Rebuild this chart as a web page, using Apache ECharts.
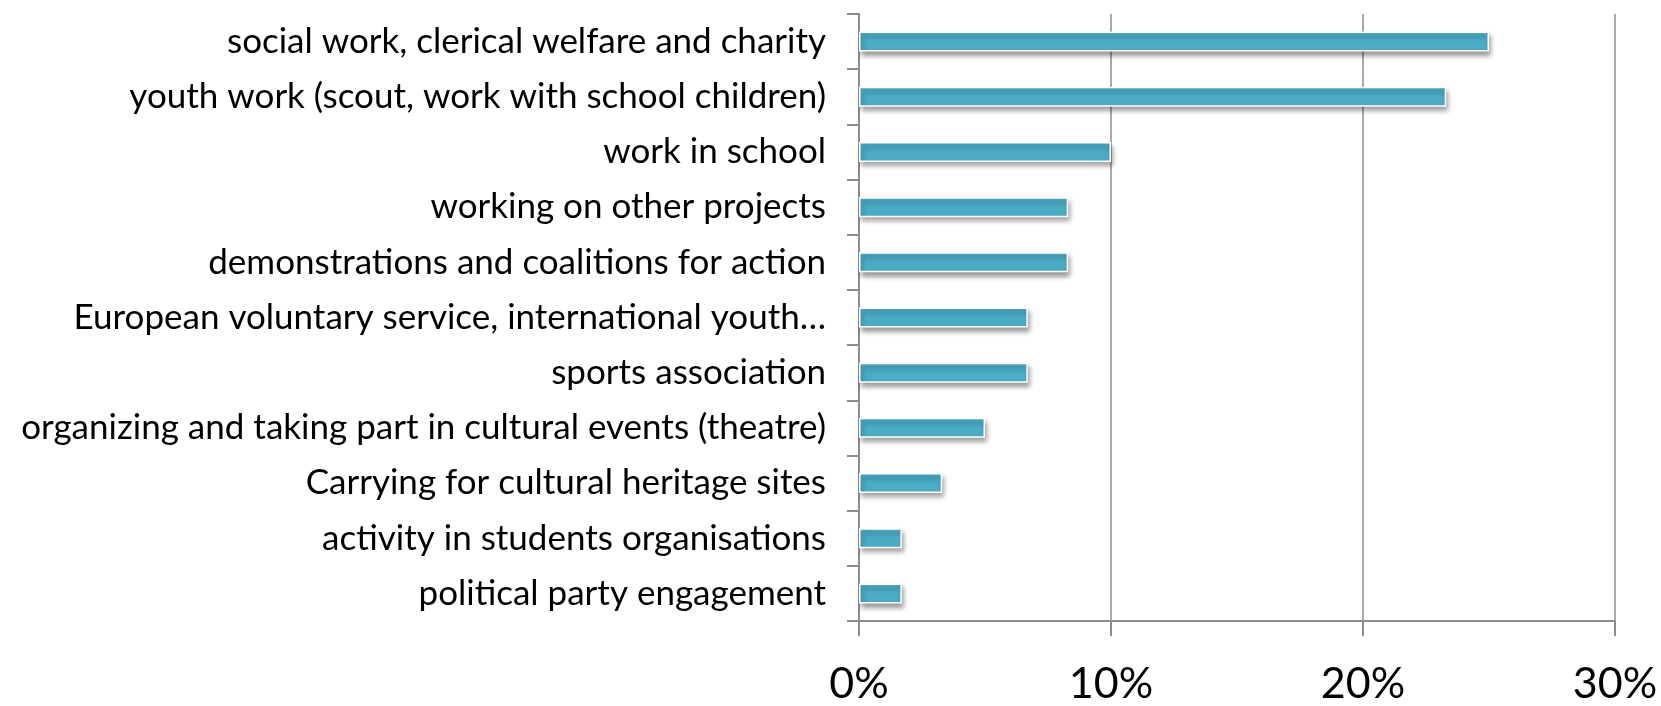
<!DOCTYPE html>
<html style="height: 100%">
<head>
    <meta charset="UTF-8">
    <title>Volunteering activities</title>
</head>
<body style="height: 100%; margin: 0; background: #fff">
    <div id="container" style="width: 1661px; height: 706px"></div>

    <script src="https://cdn.jsdelivr.net/npm/echarts@6/dist/echarts.min.js"></script>
    <script type="text/javascript">
        var categories = [
            'social work, clerical welfare and charity',
            'youth work (scout, work with school children)',
            'work in school',
            'working on other projects',
            'demonstrations and coalitions for action',
            'European voluntary service, international youth\u2026',
            'sports association',
            'organizing and taking part in cultural events (theatre)',
            'Carrying for cultural heritage sites',
            'activity in students organisations',
            'political party engagement'
        ];
        // share of respondents, in %
        var values = [25, 23.3, 10, 8.3, 8.3, 6.7, 6.7, 5, 3.3, 1.7, 1.7];
        var xTicks = [0, 10, 20, 30];

        var dom = document.getElementById('container');
        var myChart = echarts.init(dom);
        var axisGray = '#8c8c8c';

        var option = {
            animation: false,
            textStyle: {fontFamily: 'Lato'},
            grid: {left: 859, right: 46, top: 14, bottom: 79},
            xAxis: {
                type: 'value',
                min: xTicks[0],
                max: xTicks[xTicks.length - 1],
                interval: 10,
                axisLine: {show: true, lineStyle: {color: axisGray, width: 2}},
                axisTick: {show: true, length: 15, lineStyle: {color: axisGray, width: 2}},
                splitLine: {show: true, lineStyle: {color: axisGray, width: 1.5}},
                axisLabel: {
                    margin: 42,
                    fontSize: 43,
                    color: '#000',
                    fontFamily: 'Lato',
                    formatter: '{value}%'
                }
            },
            yAxis: {
                type: 'category',
                inverse: true,
                data: categories,
                axisLine: {show: true, lineStyle: {color: axisGray, width: 2}},
                axisTick: {show: true, length: 12, lineStyle: {color: axisGray, width: 2}},
                axisLabel: {
                    margin: 33,
                    fontSize: 35,
                    color: '#000',
                    fontFamily: 'Lato'
                }
            },
            series: [{
                type: 'bar',
                data: values,
                barWidth: 20,
                itemStyle: {
                    color: '#4bacc6',
                    borderColor: '#ffffff',
                    borderWidth: 1.5,
                    shadowColor: 'rgba(0,0,0,0.4)',
                    shadowBlur: 5,
                    shadowOffsetX: 2,
                    shadowOffsetY: 4
                }
            }]
        };

        myChart.setOption(option);
    </script>
</body>
</html>
